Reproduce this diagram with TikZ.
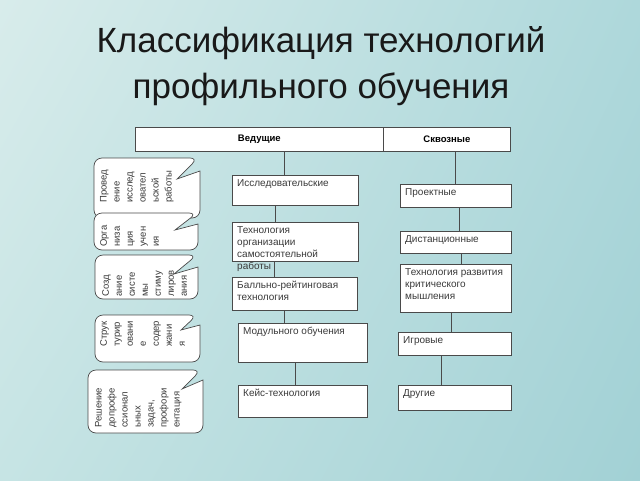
\documentclass[tikz,border=0pt]{standalone}
\usepackage{fontspec}
\setmainfont{Liberation Sans}
\usetikzlibrary{shadings}
\definecolor{bgul}{HTML}{D8ECEB}
\definecolor{bgur}{HTML}{AED8DB}
\definecolor{bgll}{HTML}{C6E4E4}
\definecolor{bglr}{HTML}{A2D1D5}
\definecolor{linegray}{HTML}{4A4A4A}
\definecolor{textgray}{HTML}{3A3A3A}

\begin{document}
\begin{tikzpicture}[x=1pt,y=-1pt,
  tech box/.style={draw=linegray,fill=white,line width=0.7pt,anchor=north west,inner sep=0pt},
  box text/.style={anchor=north west,align=left,inner xsep=5pt,inner ysep=4pt,text=textgray,
    font=\fontsize{10}{12.3}\selectfont},
  head box/.style={draw=linegray,fill=white,line width=0.7pt,anchor=north west,inner sep=0pt,
    text=black,font=\fontsize{9.5}{11}\selectfont\bfseries},
  callout/.style={draw=linegray,fill=white,line width=0.7pt},
  note text/.style={rotate=90,anchor=north west,align=left,inner sep=0pt,text=textgray,
    font=\fontsize{9.5}{13}\selectfont},
  link/.style={draw=linegray,line width=0.8pt}]

  \useasboundingbox (0,0) rectangle (640,480);
  \shade[upper left=bgul,upper right=bgur,lower left=bgll,lower right=bglr] (0,0) rectangle (640,480);

  \node[anchor=north,align=center,inner sep=0pt,text=black!90,
    font=\fontsize{35}{46}\selectfont] (title) at (321,26) {Классификация технологий\\профильного обучения};

  \node[head box,minimum width=248,minimum height=24] (lead) at (135,127) {Ведущие};
  \node[head box,minimum width=127,minimum height=24] (cross) at (383,127) {Сквозные};

  \node[tech box,minimum width=126,minimum height=30,label={[box text]north west:Исследовательские}] (research) at (232,175) {};
  \node[tech box,minimum width=126,minimum height=39,label={[box text]north west:Технология\\организации\\самостоятельной\\работы}] (selfwork) at (232,222) {};
  \node[tech box,minimum width=125,minimum height=33,label={[box text]north west:Балльно-рейтинговая\\технология}] (rating) at (232,277) {};
  \node[tech box,minimum width=129,minimum height=39,label={[box text]north west:Модульного обучения}] (module) at (238,323) {};
  \node[tech box,minimum width=129,minimum height=32,label={[box text]north west:Кейс-технология}] (case) at (238,385) {};

  \node[tech box,minimum width=111,minimum height=23,label={[box text]north west:Проектные}] (project) at (400,184) {};
  \node[tech box,minimum width=111,minimum height=22,label={[box text]north west:Дистанционные}] (distance) at (400,231) {};
  \node[tech box,minimum width=111,minimum height=48,label={[box text]north west:Технология развития\\критического\\мышления}] (critical) at (400,264) {};
  \node[tech box,minimum width=113,minimum height=23,label={[box text]north west:Игровые}] (game) at (398,332) {};
  \node[tech box,minimum width=113,minimum height=25,label={[box text]north west:Другие}] (other) at (398,385) {};

  \draw[link] ([xshift=-11pt]research.north) -- ([xshift=-11pt]research.north |- lead.south);
  \draw[link] (project.north) -- (project.north |- cross.south);
  \draw[link] ([xshift=-20pt]selfwork.north) -- ([xshift=-20pt]selfwork.north |- research.south);
  \draw[link] ([xshift=-20pt]rating.north) -- ([xshift=-20pt]rating.north |- selfwork.south);
  \draw[link] ([xshift=-18.5pt]module.north) -- ([xshift=-18.5pt]module.north |- rating.south);
  \draw[link] ([xshift=-7.5pt]case.north) -- ([xshift=-7.5pt]case.north |- module.south);
  \draw[link] ([xshift=3.5pt]distance.north) -- ([xshift=3.5pt]distance.north |- project.south);
  \draw[link] ([xshift=5.5pt]critical.north) -- ([xshift=5.5pt]critical.north |- distance.south);
  \draw[link] ([xshift=-3.5pt]game.north) -- ([xshift=-3.5pt]game.north |- critical.south);
  \draw[link] ([xshift=-13.5pt]other.north) -- ([xshift=-13.5pt]other.north |- game.south);

  \draw[callout] (94,190) [rounded corners=8pt] -- (94,158) -- (198,158) [sharp corners] -- (177,179) -- (200,171)
    [rounded corners=8pt] -- (200,218) -- (94,218) -- cycle;
  \node[note text] (research note) at (100,203) {Провед\\ение\\исслед\\овател\\ьской\\работы};

  \draw[callout] (94,230) [rounded corners=8pt] -- (94,213) -- (197,213) [sharp corners] -- (175,230) -- (198,224)
    [rounded corners=8pt] -- (198,250) -- (94,250) -- cycle;
  \node[note text] (learning note) at (100,247) {Орга\\низа\\ция\\учен\\ия};

  \draw[callout] (95,275) [rounded corners=8pt] -- (95,255) -- (197,255) [sharp corners] -- (174,274) -- (198,267)
    [rounded corners=8pt] -- (198,299) -- (95,299) -- cycle;
  \node[note text] (stimulus note) at (102,297) {Созд\\ание\\систе\\мы\\стиму\\лиров\\ания};

  \draw[callout] (95,340) [rounded corners=8pt] -- (95,315) -- (197,315) [sharp corners] -- (181,330) -- (200,325)
    [rounded corners=8pt] -- (200,362) -- (95,362) -- cycle;
  \node[note text] (content note) at (100,347) {Струк\\турир\\овани\\е\\содер\\жани\\я};

  \draw[callout] (88,400) [rounded corners=8pt] -- (88,370) -- (201,370) [sharp corners] -- (182,389) -- (203,380)
    [rounded corners=8pt] -- (203,433) -- (88,433) -- cycle;
  \node[note text] (career note) at (95,428) {Решение\\допрофе\\ссионал\\ьных\\задач,\\профори\\ентация};

\end{tikzpicture}
\end{document}
